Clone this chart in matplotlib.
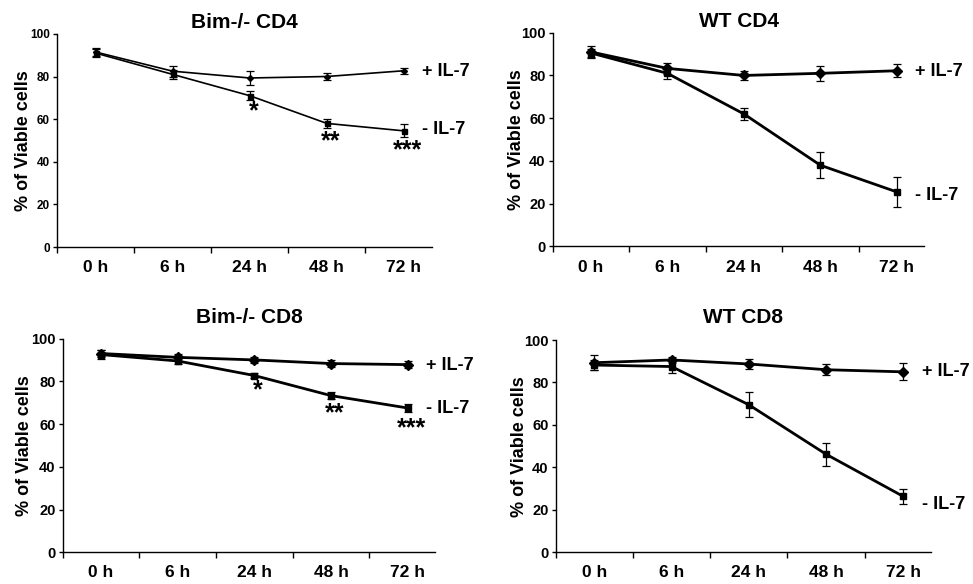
import matplotlib
matplotlib.use("Agg")
import matplotlib.pyplot as plt
from matplotlib import font_manager
from matplotlib.ticker import FixedLocator, NullFormatter
from matplotlib.transforms import offset_copy

times = ['0 h', '6 h', '24 h', '48 h', '72 h']

bim_cd4_plus = [91.5, 82.5, 79.3, 80.0, 82.7]
bim_cd4_plus_err = [2.0, 2.5, 3.5, 1.5, 1.5]
bim_cd4_minus = [91.0, 81.0, 71.0, 58.0, 54.5]
bim_cd4_minus_err = [2.0, 2.0, 2.0, 2.0, 3.0]

wt_cd4_plus = [91.0, 83.3, 80.0, 81.0, 82.2]
wt_cd4_plus_err = [3.0, 2.5, 2.0, 3.5, 3.0]
wt_cd4_minus = [90.5, 81.0, 62.0, 38.0, 25.5]
wt_cd4_minus_err = [2.0, 2.5, 3.0, 6.0, 7.0]

bim_cd8_plus = [93.0, 91.2, 90.0, 88.3, 87.8]
bim_cd8_plus_err = [1.5, 1.5, 1.5, 1.5, 1.5]
bim_cd8_minus = [92.5, 89.5, 82.7, 73.3, 67.5]
bim_cd8_minus_err = [2.0, 1.5, 1.0, 1.5, 2.0]

wt_cd8_plus = [89.3, 90.6, 88.7, 86.0, 85.0]
wt_cd8_plus_err = [3.5, 1.5, 2.5, 2.5, 4.0]
wt_cd8_minus = [88.2, 87.5, 69.5, 46.2, 26.3]
wt_cd8_minus_err = [2.5, 3.0, 6.0, 5.5, 3.5]

titles = ['Bim-/- CD4', 'WT CD4', 'Bim-/- CD8', 'WT CD8']
yticks = [0, 20, 40, 60, 80, 100]
stars_cd4 = ['', '', '*', '**', '***']
stars_cd8 = ['', '', '*', '**', '***']

installed = {f.name for f in font_manager.fontManager.ttflist}
main_font = 'Liberation Sans' if 'Liberation Sans' in installed else 'DejaVu Sans'
narrow_font = 'Liberation Sans Narrow' if 'Liberation Sans Narrow' in installed else main_font
plt.rcParams['font.family'] = [main_font, 'DejaVu Sans']

fig = plt.figure(figsize=(9.73, 5.84), dpi=100)
fig.patch.set_facecolor('white')

panels = [
    dict(rect=[0.0586, 0.577, 0.385, 0.365], title=titles[0], tpad=4, lpad=-1,
         plus=bim_cd4_plus, pe=bim_cd4_plus_err, minus=bim_cd4_minus, me=bim_cd4_minus_err,
         stars=stars_cd4, star_off=[0, 0, 6.0, 7.0, 7.5], small=True,
         lab_plus=82.3, lab_minus=55.0),
    dict(rect=[0.568, 0.578, 0.382, 0.366], title=titles[1], tpad=4, lpad=-3,
         plus=wt_cd4_plus, pe=wt_cd4_plus_err, minus=wt_cd4_minus, me=wt_cd4_minus_err,
         stars=None, star_off=None, small=False,
         lab_plus=82.0, lab_minus=24.0),
    dict(rect=[0.0644, 0.0543, 0.383, 0.366], title=titles[2], tpad=11, lpad=-1,
         plus=bim_cd8_plus, pe=bim_cd8_plus_err, minus=bim_cd8_minus, me=bim_cd8_minus_err,
         stars=stars_cd8, star_off=[0, 0, 5.3, 6.8, 8.0], small=False,
         lab_plus=87.5, lab_minus=67.3),
    dict(rect=[0.571, 0.0543, 0.386, 0.3635], title=titles[3], tpad=12, lpad=-2.5,
         plus=wt_cd8_plus, pe=wt_cd8_plus_err, minus=wt_cd8_minus, me=wt_cd8_minus_err,
         stars=None, star_off=None, small=False,
         lab_plus=85.0, lab_minus=22.3),
]

x = list(range(len(times)))

for p in panels:
    ax = fig.add_axes(p['rect'])
    small = p['small']
    lw = 1.2 if small else 2.0
    ms_d = 3.0 if small else 5.6
    ms_s = 3.6 if small else 4.2
    ax.errorbar(x, p['minus'], yerr=p['me'], color='black', lw=lw, marker='s',
                ms=ms_s, capsize=3, elinewidth=0.9, capthick=0.9, zorder=3)
    ax.errorbar(x, p['plus'], yerr=p['pe'], color='black', lw=lw, marker='D',
                ms=ms_d, capsize=3, elinewidth=0.9, capthick=0.9, zorder=3)
    ax.set_xlim(-0.5, 4.36)
    ax.set_ylim(0, 100)
    for s in ['top', 'right']:
        ax.spines[s].set_visible(False)
    for s in ['left', 'bottom']:
        ax.spines[s].set_linewidth(1.0)
    ax.set_yticks(yticks)
    ax.set_yticklabels([str(v) for v in yticks], fontweight='bold', family=narrow_font,
                       fontsize=8.5 if small else 10.5)
    ax.xaxis.set_major_locator(FixedLocator(x))
    ax.set_xticklabels(times, fontweight='bold', fontsize=12.5)
    ax.xaxis.set_minor_locator(FixedLocator([-0.5, 0.5, 1.5, 2.5, 3.5]))
    ax.xaxis.set_minor_formatter(NullFormatter())
    ax.tick_params(axis='x', which='major', length=0, pad=9.5)
    ax.tick_params(axis='x', which='minor', length=4, width=1.0, direction='out')
    ax.tick_params(axis='y', length=3, width=1.0, direction='out', pad=2)
    ax.set_ylabel('% of Viable cells', fontweight='bold', fontsize=13, labelpad=p['lpad'])
    ax.set_title(p['title'], fontweight='bold', fontsize=15, pad=p['tpad'])
    ax.text(4.24, p['lab_plus'], '+ IL-7', fontweight='bold', fontsize=13,
            va='center', ha='left', clip_on=False)
    ax.text(4.24, p['lab_minus'], '- IL-7', fontweight='bold', fontsize=13,
            va='center', ha='left', clip_on=False)
    if p['stars'] is not None:
        star_tr = offset_copy(ax.transData, fig=fig, y=-7.3, units='points')
        for i, st in enumerate(p['stars']):
            if st:
                ax.text(x[i] + 0.05, p['minus'][i] - p['star_off'][i], st,
                        fontweight='bold', fontsize=18, ha='center', va='baseline',
                        transform=star_tr)

fig.savefig('out.png', dpi=100, facecolor='white')
